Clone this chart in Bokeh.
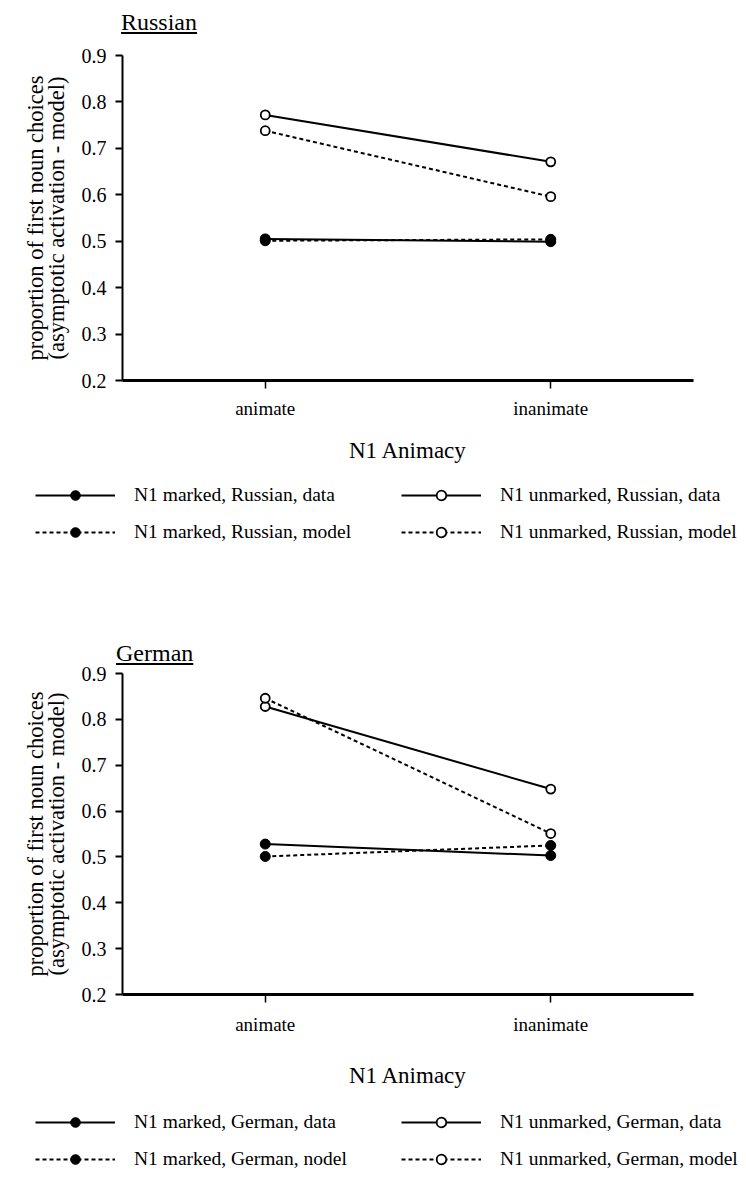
from bokeh.plotting import figure
from bokeh.models import FactorRange, Range1d, FixedTicker, Legend, LegendItem, Div
from bokeh.layouts import column
from bokeh.embed import file_html
from bokeh.resources import INLINE

categories = ["animate", "inanimate"]
y_ticks = [0.2, 0.3, 0.4, 0.5, 0.6, 0.7, 0.8, 0.9]

ru_marked_data = [0.505, 0.499]
ru_marked_model = [0.501, 0.504]
ru_unmarked_data = [0.772, 0.671]
ru_unmarked_model = [0.738, 0.596]

de_marked_data = [0.528, 0.503]
de_marked_model = [0.501, 0.525]
de_unmarked_data = [0.828, 0.648]
de_unmarked_model = [0.846, 0.551]

ru_labels = ["N1 marked, Russian, data", "N1 marked, Russian, model",
             "N1 unmarked, Russian, data", "N1 unmarked, Russian, model"]
de_labels = ["N1 marked, German, data", "N1 marked, German, nodel",
             "N1 unmarked, German, data", "N1 unmarked, German, model"]

FONT = "Liberation Serif"


def add_series(p, md, mm, ud, um):
    out = []
    series = [(md, "solid", True), (mm, "4 3", True), (ud, "solid", False), (um, "4 3", False)]
    for vals, dash, filled in series:
        ln = p.line(x=categories, y=vals, line_color="black", line_width=2, line_dash=dash)
        if filled:
            sc = p.scatter(x=categories, y=vals, marker="circle", size=10,
                           fill_color="black", line_color="black")
        else:
            sc = p.scatter(x=categories, y=vals, marker="circle", size=9,
                           fill_color="white", line_color="black", line_width=1.8)
        out.append([ln, sc])
    return out


def make_panel(md, mm, ud, um, height, top, bottom, tick_standoff, label_standoff):
    p = figure(x_range=FactorRange(factors=categories), y_range=Range1d(0.2, 0.9),
               width=746, height=height, output_backend="svg", toolbar_location=None,
               min_border_left=122, min_border_right=53, min_border_top=top,
               min_border_bottom=bottom)
    p.outline_line_color = None
    p.xgrid.visible = False
    p.ygrid.visible = False
    p.background_fill_alpha = 0
    p.border_fill_alpha = 0

    add_series(p, md, mm, ud, um)

    ya = p.yaxis[0]
    ya.ticker = FixedTicker(ticks=y_ticks)
    ya.minor_tick_line_color = None
    ya.major_tick_out = 7
    ya.major_tick_in = 0
    ya.major_tick_line_width = 2
    ya.axis_line_width = 2
    ya.major_label_standoff = 9
    ya.major_label_text_font = FONT
    ya.major_label_text_font_size = "20px"
    ya.major_label_text_color = "black"
    ya.axis_label = "proportion of first noun choices\n(asymptotic activation - model)"
    ya.axis_label_text_font = FONT
    ya.axis_label_text_font_size = "22.5px"
    ya.axis_label_text_font_style = "normal"
    ya.axis_label_text_color = "black"
    ya.axis_label_text_line_height = 0.82
    ya.axis_label_standoff = 10

    xa = p.xaxis[0]
    xa.major_tick_out = 8
    xa.major_tick_in = 0
    xa.major_tick_line_width = 1.5
    xa.axis_line_width = 3
    xa.major_label_standoff = tick_standoff
    xa.major_label_text_font = FONT
    xa.major_label_text_font_size = "19px"
    xa.major_label_text_color = "black"
    xa.axis_label = "N1 Animacy"
    xa.axis_label_text_font = FONT
    xa.axis_label_text_font_size = "23px"
    xa.axis_label_text_font_style = "normal"
    xa.axis_label_text_color = "black"
    xa.axis_label_standoff = label_standoff
    return p


def make_legend(md, mm, ud, um, labels, height, vy):
    # legend-only strip: same series, plotted outside its visible range
    q = figure(x_range=FactorRange(factors=categories), y_range=Range1d(0.0, 0.1),
               width=746, height=height, output_backend="svg", toolbar_location=None,
               x_axis_location=None, y_axis_location=None,
               min_border=0, min_border_left=0, min_border_right=0,
               min_border_top=0, min_border_bottom=0, frame_align=False)
    q.outline_line_color = None
    q.xgrid.visible = False
    q.ygrid.visible = False
    q.background_fill_alpha = 0
    q.border_fill_alpha = 0
    rends = add_series(q, md, mm, ud, um)
    items = [LegendItem(label=lab, renderers=r) for lab, r in zip(labels, rends)]
    leg = Legend(items=items, orientation="vertical", ncols=2,
                 glyph_width=80, glyph_height=24, label_height=24, label_standoff=19,
                 label_width=254, spacing=13, padding=0, margin=0,
                 label_text_font=FONT, label_text_font_size="19.5px",
                 label_text_color="black",
                 border_line_alpha=0, background_fill_alpha=0,
                 location=(35, vy))
    q.add_layout(leg, "center")
    return q


def title_div(text, margin, h):
    return Div(text="<u>%s</u>" % text, width=200, height=h, margin=margin,
               styles={"font-family": FONT, "font-size": "24px",
                       "line-height": "%dpx" % h, "color": "black"})


d1 = title_div("Russian", (10, 0, 0, 121), 24)
p1 = make_panel(ru_marked_data, ru_marked_model, ru_unmarked_data, ru_unmarked_model,
                height=441, top=21, bottom=95, tick_standoff=9, label_standoff=16)
l1 = make_legend(ru_marked_data, ru_marked_model, ru_unmarked_data, ru_unmarked_model,
                 ru_labels, height=85, vy=16)
d2 = title_div("German", (81, 0, -8, 116), 24)
p2 = make_panel(de_marked_data, de_marked_model, de_unmarked_data, de_unmarked_model,
                height=433, top=16, bottom=95, tick_standoff=11, label_standoff=25)
l2 = make_legend(de_marked_data, de_marked_model, de_unmarked_data, de_unmarked_model,
                 de_labels, height=87, vy=6)

layout = column(d1, p1, l1, d2, p2, l2, spacing=0)
open("out.html", "w").write(file_html(layout, INLINE))
